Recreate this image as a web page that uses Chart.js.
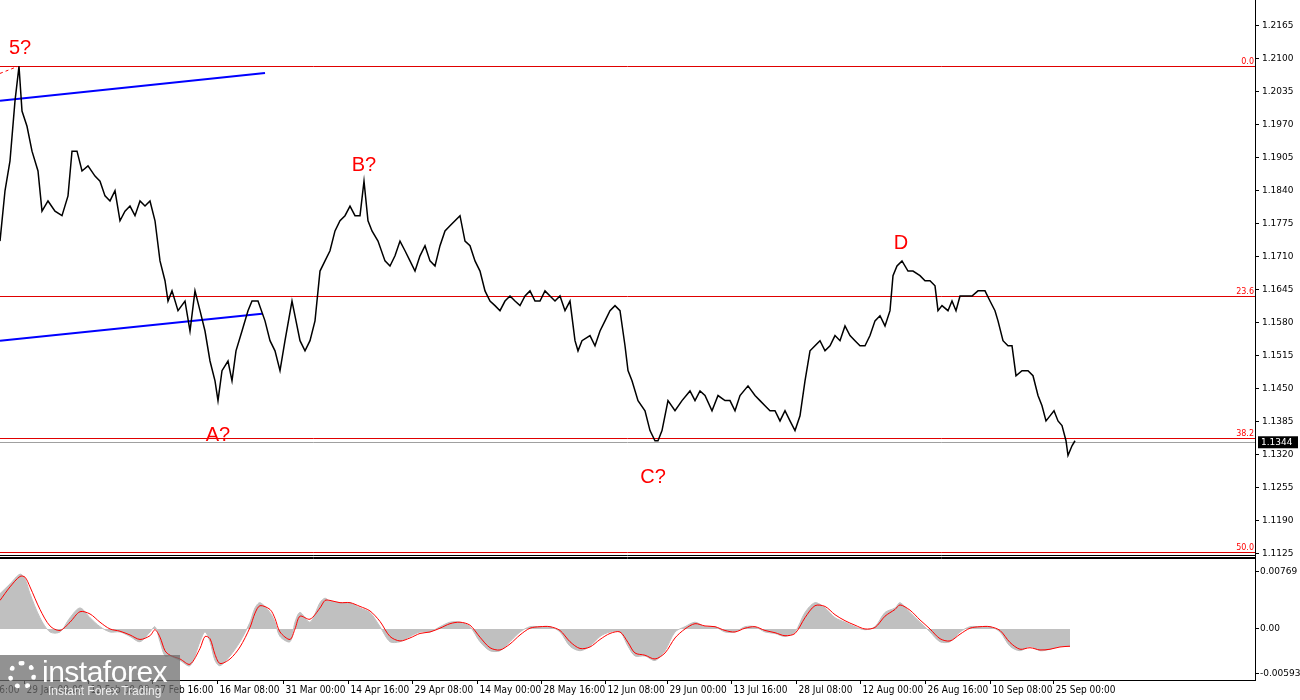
<!DOCTYPE html>
<html>
<head>
<meta charset="utf-8">
<script src="https://cdn.jsdelivr.net/npm/chart.js@4.4.0/dist/chart.umd.min.js"></script>
<style>
  body { margin:0; width:1300px; height:700px; background:#fff; overflow:hidden; position:relative; font-family:"DejaVu Sans", sans-serif; }
  #c1 { position:absolute; left:0; top:0; }
  #c2 { position:absolute; left:0; top:558px; }
  .logo { position:absolute; left:0; top:655px; width:180px; height:45px; background:rgba(110,110,110,0.75); color:#fff; }
  .logo .big { position:absolute; left:42px; top:0px; font:30px "Liberation Sans", sans-serif; letter-spacing:-0.5px; }
  .logo .small { position:absolute; left:48px; top:29px; font:12px "Liberation Sans", sans-serif; color:#eee; }
  .logo .gear { position:absolute; left:8px; top:6px; width:28px; height:28px; border-radius:50%; border:5px dotted #fff; box-sizing:border-box; }
</style>
</head>
<body>
<canvas id="c1"></canvas>
<canvas id="c2"></canvas>
<div class="logo"><div class="gear"></div><div class="big">instaforex</div><div class="small">Instant Forex Trading</div></div>
<script>
// ---------- DATA ----------
// bar index (time) and close price
const priceBars = [0,5,10,15,19,22,27,32,38,42,48,55,62,68,72,77,82,88,95,100,105,110,115,120,125,130,135,140,145,150,155,160,165,168,172,178,185,190,195,200,205,210,215,218,222,228,232,236,242,248,252,258,265,270,275,280,285,292,296,300,305,310,315,320,325,330,335,340,345,350,355,360,364,368,372,378,385,390,395,400,405,410,415,420,425,430,435,440,445,450,455,460,465,470,475,480,485,490,495,500,505,510,515,520,525,530,535,540,545,550,555,560,565,570,575,578,582,590,595,600,605,610,615,620,625,628,632,638,645,650,655,658,662,668,675,682,690,695,700,705,712,718,725,730,735,740,748,755,760,765,770,775,780,785,790,795,800,805,810,815,820,825,830,835,840,845,850,855,860,865,870,875,880,885,890,893,897,902,908,913,920,925,930,935,938,942,948,952,956,960,966,972,978,985,990,995,998,1003,1008,1012,1016,1022,1028,1033,1038,1042,1046,1050,1054,1058,1062,1066,1068,1072,1075];
const priceValues = [1.1740,1.1839,1.1898,1.2016,1.2084,1.1996,1.1966,1.1917,1.1878,1.1799,1.1819,1.1799,1.1790,1.1829,1.1917,1.1917,1.1878,1.1888,1.1868,1.1858,1.1829,1.1819,1.1839,1.1780,1.1799,1.1809,1.1790,1.1819,1.1809,1.1819,1.1780,1.1701,1.1662,1.1622,1.1642,1.1603,1.1622,1.1563,1.1642,1.1603,1.1563,1.1504,1.1465,1.1426,1.1485,1.1504,1.1465,1.1524,1.1563,1.1603,1.1622,1.1622,1.1583,1.1544,1.1524,1.1485,1.1544,1.1622,1.1583,1.1544,1.1524,1.1544,1.1583,1.1681,1.1701,1.1721,1.1760,1.1780,1.1790,1.1809,1.1790,1.1790,1.1858,1.1780,1.1760,1.1740,1.1701,1.1691,1.1711,1.1740,1.1721,1.1701,1.1681,1.1711,1.1731,1.1701,1.1691,1.1731,1.1760,1.1770,1.1780,1.1790,1.1740,1.1731,1.1701,1.1681,1.1642,1.1622,1.1613,1.1603,1.1622,1.1632,1.1622,1.1613,1.1632,1.1642,1.1622,1.1622,1.1642,1.1632,1.1622,1.1632,1.1603,1.1622,1.1544,1.1524,1.1544,1.1554,1.1534,1.1563,1.1583,1.1603,1.1613,1.1603,1.1534,1.1485,1.1465,1.1426,1.1406,1.1367,1.1347,1.1347,1.1367,1.1426,1.1406,1.1426,1.1445,1.1426,1.1445,1.1436,1.1406,1.1436,1.1426,1.1426,1.1406,1.1436,1.1455,1.1436,1.1426,1.1416,1.1406,1.1406,1.1386,1.1406,1.1386,1.1367,1.1396,1.1465,1.1524,1.1534,1.1544,1.1524,1.1534,1.1554,1.1544,1.1573,1.1554,1.1544,1.1534,1.1534,1.1554,1.1583,1.1593,1.1573,1.1603,1.1672,1.1691,1.1701,1.1681,1.1681,1.1672,1.1662,1.1662,1.1652,1.1603,1.1613,1.1603,1.1622,1.1603,1.1632,1.1632,1.1632,1.1642,1.1642,1.1622,1.1603,1.1583,1.1544,1.1534,1.1534,1.1475,1.1485,1.1485,1.1475,1.1436,1.1416,1.1386,1.1396,1.1406,1.1386,1.1377,1.1347,1.1318,1.1337,1.1347];

// oscillator (x0.001)
const oscBars = [0,10,20,25,30,40,50,60,70,80,90,100,110,120,130,140,150,155,160,165,170,180,190,200,205,210,215,220,230,240,250,255,260,270,275,280,290,295,300,310,320,325,330,340,350,360,370,380,390,400,410,420,430,440,450,460,470,480,490,500,510,520,530,540,550,560,570,580,590,600,610,620,628,635,645,655,665,675,685,695,705,715,725,735,745,755,765,775,785,795,805,815,825,835,845,855,865,875,885,895,900,910,920,930,940,950,960,970,980,990,1000,1010,1020,1030,1040,1050,1060,1070];
const oscHist = [4.7,6.0,7.3,6.7,4.7,1.5,-0.4,-0.4,1.5,2.8,1.5,0.3,-0.4,-0.4,-1.0,-1.7,-0.4,0.3,-1.7,-3.6,-3.6,-4.2,-4.9,-1.7,-0.4,-1.7,-4.2,-4.9,-3.6,-1.7,0.9,2.8,3.5,2.2,0.9,-1.0,-1.7,0.9,2.2,0.9,3.5,4.1,3.7,3.5,3.5,2.8,2.2,0.3,-1.7,-1.7,-1.0,-0.4,-0.4,0.3,0.9,0.9,0.3,-1.7,-2.9,-2.9,-1.7,-0.4,0.3,0.3,0.3,-0.4,-2.3,-2.9,-2.3,-1.0,-0.4,-0.4,-2.3,-3.6,-3.6,-4.2,-2.9,-0.4,0.3,0.9,0.3,0.3,-0.4,-0.4,0.3,0.3,-0.4,-0.6,-1.0,-0.4,2.2,3.5,2.8,1.5,0.9,0.3,-0.1,0.3,2.2,2.8,3.5,2.2,0.9,-0.4,-1.7,-1.7,-0.4,0.3,0.3,0.3,-0.4,-2.3,-2.9,-2.3,-2.9,-2.7,-2.3,-2.3];
const oscSignal = [3.8,5.6,7.0,6.9,5.6,2.6,0.4,-0.2,0.9,2.3,2.0,0.9,0.0,-0.3,-0.8,-1.4,-0.9,-0.1,-1.1,-2.9,-3.5,-4.0,-4.7,-2.6,-1.0,-1.3,-3.4,-4.6,-4.0,-2.4,0.2,2.1,3.1,2.6,1.4,-0.4,-1.4,0.0,1.7,1.3,2.8,3.8,3.8,3.5,3.5,3.0,2.4,1.0,-1.0,-1.6,-1.2,-0.6,-0.4,0.1,0.7,0.9,0.5,-1.1,-2.5,-2.8,-2.0,-0.8,0.1,0.3,0.3,-0.2,-1.7,-2.6,-2.4,-1.4,-0.6,-0.4,-1.8,-3.2,-3.5,-4.0,-3.2,-1.2,0.0,0.7,0.4,0.3,-0.2,-0.4,0.1,0.3,-0.2,-0.5,-0.9,-0.6,1.5,3.1,3.0,1.9,1.1,0.5,0.0,0.2,1.7,2.6,3.2,2.5,1.2,0.0,-1.3,-1.6,-0.7,0.1,0.3,0.3,-0.2,-1.8,-2.7,-2.5,-2.8,-2.7,-2.4,-2.3];

// wave channel lines [bar, price]
const channelUpper = [[0,1.2016],[265,1.2071]];
const channelLower = [[0,1.1544],[262,1.1597]];
const dashedTop = [[0,1.2070],[18,1.2084]];

// fibonacci levels
const fibNames = ["0.0","23.6","38.2","50.0"];
const fibLevels = [1.2085,1.1632,1.1353,1.1129];
const lastPrice = 1.1344;

// wave labels
const waveText = ["5?","A?","B?","C?","D"];
const waveBars = [20,218,364,653,901];
const wavePrice = [1.2120,1.1357,1.1888,1.1275,1.1736];

// axis ticks
const priceTicks = [1.1125,1.1190,1.1255,1.1320,1.1385,1.1450,1.1515,1.1580,1.1645,1.1710,1.1775,1.1840,1.1905,1.1970,1.2035,1.2100,1.2165];
const oscTicks = [7.69,0,-5.93];
const oscTickText = ["0.00769","0.00","-0.00593"];
const dateTickBars = [-40,24,88,152,217,283,348,412,477,541,605,667,731,796,860,925,990,1053];
const dateTickText = ["15 Jan 16:00","29 Jan 00:00","12 Feb 00:00","27 Feb 16:00","16 Mar 08:00","31 Mar 00:00","14 Apr 16:00","29 Apr 08:00","14 May 00:00","28 May 16:00","12 Jun 08:00","29 Jun 00:00","13 Jul 16:00","28 Jul 08:00","12 Aug 00:00","26 Aug 16:00","10 Sep 08:00","25 Sep 00:00"];

const FONT = '9px "DejaVu Sans"';
const DATE_FONT = '10px "Liberation Sans Narrow", "DejaVu Sans Condensed", "Liberation Sans"';
const xr = { min:0, max:1255 };
const pts = (xs, ys) => xs.map((x,i)=>({x, y:ys[i]}));
const pairs = arr => arr.map(p=>({x:p[0], y:p[1]}));

function fixedAxis(scale){ scale.width = 45; }

// ---------- PRICE CHART ----------
const c1 = document.getElementById("c1");
c1.width = 1300; c1.height = 566;

const pricePlugin = {
  id:"priceExtras",
  beforeDatasetsDraw(chart){
    const {ctx, chartArea:a, scales:{x,y}} = chart;
    ctx.save();
    fibLevels.forEach((lv,i)=>{
      const py = Math.round(y.getPixelForValue(lv))+0.5;
      ctx.strokeStyle = "#e00000"; ctx.lineWidth = 1;
      ctx.beginPath(); ctx.moveTo(a.left,py); ctx.lineTo(a.right,py); ctx.stroke();
      ctx.fillStyle = "#ff0000"; ctx.font = '8px "DejaVu Sans"';
      ctx.textAlign = "right"; ctx.textBaseline = "bottom";
      ctx.fillText(fibNames[i], a.right-1, py-1);
    });
    const ly = Math.round(y.getPixelForValue(lastPrice))+0.5;
    ctx.strokeStyle = "#a0a0a0";
    ctx.beginPath(); ctx.moveTo(a.left,ly); ctx.lineTo(a.right,ly); ctx.stroke();
    ctx.restore();
  },
  afterDraw(chart){
    const {ctx, chartArea:a, scales:{x,y}} = chart;
    ctx.save();
    ctx.fillStyle = "#ff0000"; ctx.font = '20px "Liberation Sans"';
    ctx.textAlign = "center"; ctx.textBaseline = "middle";
    waveText.forEach((t,i)=> ctx.fillText(t, x.getPixelForValue(waveBars[i]), y.getPixelForValue(wavePrice[i])));
    // frame
    ctx.strokeStyle = "#000"; ctx.lineWidth = 1;
    ctx.beginPath(); ctx.moveTo(a.right+0.5,0); ctx.lineTo(a.right+0.5,558);
    ctx.moveTo(0,555.5); ctx.lineTo(a.right,555.5); ctx.moveTo(0,557.5); ctx.lineTo(a.right,557.5); ctx.stroke();
    // last price box
    const ly = y.getPixelForValue(lastPrice);
    ctx.fillStyle = "#000"; ctx.fillRect(a.right+3, ly-6, 40, 12);
    ctx.fillStyle = "#fff"; ctx.font = FONT; ctx.textAlign = "left";
    ctx.fillText(lastPrice.toFixed(4), a.right+6, ly);
    ctx.restore();
  }
};

new Chart(c1, {
  type:"line",
  data:{ datasets:[
    { data:pts(priceBars, priceValues), borderColor:"#000", borderWidth:1.5, pointRadius:0, tension:0 },
    { data:pairs(channelUpper), borderColor:"#0000ff", borderWidth:2, pointRadius:0 },
    { data:pairs(channelLower), borderColor:"#0000ff", borderWidth:2, pointRadius:0 },
    { data:pairs(dashedTop), borderColor:"#ff0000", borderWidth:1, borderDash:[3,3], pointRadius:0 }
  ]},
  options:{
    responsive:false, animation:false, events:[],
    layout:{ padding:{ top:0, bottom:0, left:0, right:0 } },
    plugins:{ legend:{display:false}, tooltip:{enabled:false} },
    scales:{
      x:{ type:"linear", min:xr.min, max:xr.max, display:false },
      y:{ position:"right", min:1.1117, max:1.2198,
          afterBuildTicks: s => { s.ticks = priceTicks.map(v=>({value:v})); },
          afterFit: fixedAxis,
          grid:{ drawOnChartArea:false, tickLength:4, color:"#000" },
          border:{ display:false },
          ticks:{ color:"#000", font:{family:"DejaVu Sans", size:9}, padding:3, callback: v => v.toFixed(4) } }
    }
  },
  plugins:[pricePlugin]
});

// ---------- OSCILLATOR CHART ----------
const c2 = document.getElementById("c2");
c2.width = 1300; c2.height = 142;

const oscPlugin = {
  id:"oscExtras",
  afterDraw(chart){
    const {ctx, chartArea:a, scales:{x,y}} = chart;
    ctx.save();
    ctx.strokeStyle = "#000"; ctx.lineWidth = 1;
    ctx.beginPath();
    ctx.moveTo(0,0.5); ctx.lineTo(a.right,0.5);
    ctx.moveTo(a.right+0.5,0); ctx.lineTo(a.right+0.5,a.bottom);
    ctx.moveTo(0,a.bottom+0.5); ctx.lineTo(a.right+1,a.bottom+0.5);
    ctx.stroke();
    ctx.fillStyle = "#000"; ctx.font = DATE_FONT; ctx.textAlign = "left"; ctx.textBaseline = "top";
    dateTickBars.forEach((b,i)=>{
      const px = Math.round(x.getPixelForValue(b))+0.5;
      ctx.beginPath(); ctx.moveTo(px,a.bottom); ctx.lineTo(px,a.bottom+4); ctx.stroke();
      ctx.fillText(dateTickText[i], px+2, a.bottom+5);
    });
    ctx.restore();
  }
};

new Chart(c2, {
  type:"line",
  data:{ datasets:[
    { data:pts(oscBars, oscSignal), borderColor:"#ff0000", borderWidth:1, pointRadius:0, tension:0.3, fill:false },
    { data:pts(oscBars, oscHist), borderColor:"#c0c0c0", backgroundColor:"#c0c0c0", borderWidth:1, pointRadius:0, tension:0.3, fill:"origin" }
  ]},
  options:{
    responsive:false, animation:false, events:[],
    layout:{ padding:{ top:4, bottom:20, left:0, right:0 } },
    plugins:{ legend:{display:false}, tooltip:{enabled:false} },
    scales:{
      x:{ type:"linear", min:xr.min, max:xr.max, display:false },
      y:{ position:"right", min:-6.8, max:8.6,
          afterBuildTicks: s => { s.ticks = oscTicks.map(v=>({value:v})); },
          afterFit: fixedAxis,
          grid:{ drawOnChartArea:false, tickLength:4, color:"#000" },
          border:{ display:false },
          ticks:{ color:"#000", font:{family:"DejaVu Sans", size:9}, padding:1,
                  callback: v => oscTickText[oscTicks.indexOf(v)] } }
    }
  },
  plugins:[oscPlugin]
});
</script>
</body>
</html>
